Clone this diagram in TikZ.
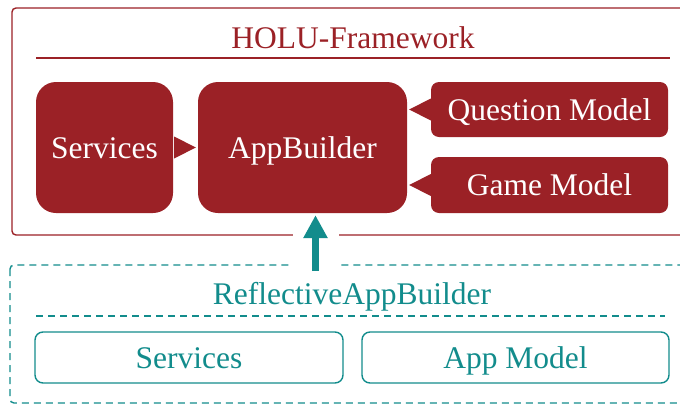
\documentclass[tikz,border=0pt]{standalone}
\usepackage{fontspec}
\setmainfont{Liberation Serif}
\usetikzlibrary{arrows.meta,calc}
\definecolor{hred}{RGB}{155,33,38}
\definecolor{hteal}{RGB}{18,140,140}
\tikzset{
  bigfont/.style={font=\fontsize{31.5}{37}\selectfont},
  redblock/.style={fill=hred, draw=none, text=white, bigfont, inner sep=0pt, text height=21pt, text depth=0pt},
  tealbox/.style={draw=hteal, line width=1.4pt, rounded corners=8pt, text=hteal, bigfont, inner sep=0pt, text height=21pt, text depth=0pt},
  tri/.style={fill=hred, draw=none},
  bigarrow/.style={draw=hteal, line width=7pt, -{Triangle[width=23pt,length=23pt]}},
}
\begin{document}
\begin{tikzpicture}[x=1pt,y=-1pt]
\useasboundingbox (0,0) rectangle (680,405);
% outer frames
\draw[hred, line width=1.4pt, rounded corners=4pt] (12,8) rectangle (700,235);
\draw[hteal, line width=1.4pt, dash pattern=on 7pt off 5pt, rounded corners=4pt] (10,265) rectangle (700,403);
% titles
\node[anchor=base, bigfont, text=hred, inner sep=0pt] (fwtitle) at (353,48) {HOLU-Framework};
\draw[hred, line width=1.2pt] (36,58) -- (670,58);
\node[anchor=base, bigfont, text=hteal, inner sep=0pt] (rtitle) at (352,304) {ReflectiveAppBuilder};
\draw[hteal, line width=1.4pt, dash pattern=on 7pt off 5pt] (36,316) -- (665,316);
% red blocks
\node[redblock, rounded corners=20pt, minimum width=137pt, minimum height=131pt] (svc) at (104.5,147.5) {Services};
\node[redblock, rounded corners=20pt, minimum width=209pt, minimum height=131pt] (ab) at (302.5,147.5) {AppBuilder};
\node[redblock, rounded corners=8pt, minimum width=237pt, minimum height=55pt] (qm) at (549.5,109.5) {Question Model};
\node[redblock, rounded corners=8pt, minimum width=237pt, minimum height=56pt] (gm) at (549.5,185) {Game Model};
% triangle connectors
\fill[tri] ($(svc.east)+(1,-11)$) -- ($(svc.east)+(1,11)$) -- ($(ab.west)+(-2,0)$) -- cycle;
\coordinate (qmtip) at (ab.east |- qm.west);
\coordinate (gmtip) at (ab.east |- gm.west);
\fill[tri] ($(qm.west)+(0,-11)$) -- ($(qm.west)+(0,11)$) -- ($(qmtip)+(2,0)$) -- cycle;
\fill[tri] ($(gm.west)+(0,-11)$) -- ($(gm.west)+(0,11)$) -- ($(gmtip)+(2,0)$) -- cycle;
% teal boxes
\node[tealbox, minimum width=308pt, minimum height=51pt] (tsvc) at (189,357.5) {Services};
\node[tealbox, minimum width=307pt, minimum height=51pt] (tam) at (515.5,357.5) {App Model};
% gap and arrow
\fill[white] (293,226) rectangle (339,272);
\coordinate (arrstart) at (315.5,271);
\draw[bigarrow, shorten >=2pt] (arrstart) -- (arrstart |- ab.south);
\end{tikzpicture}
\end{document}
